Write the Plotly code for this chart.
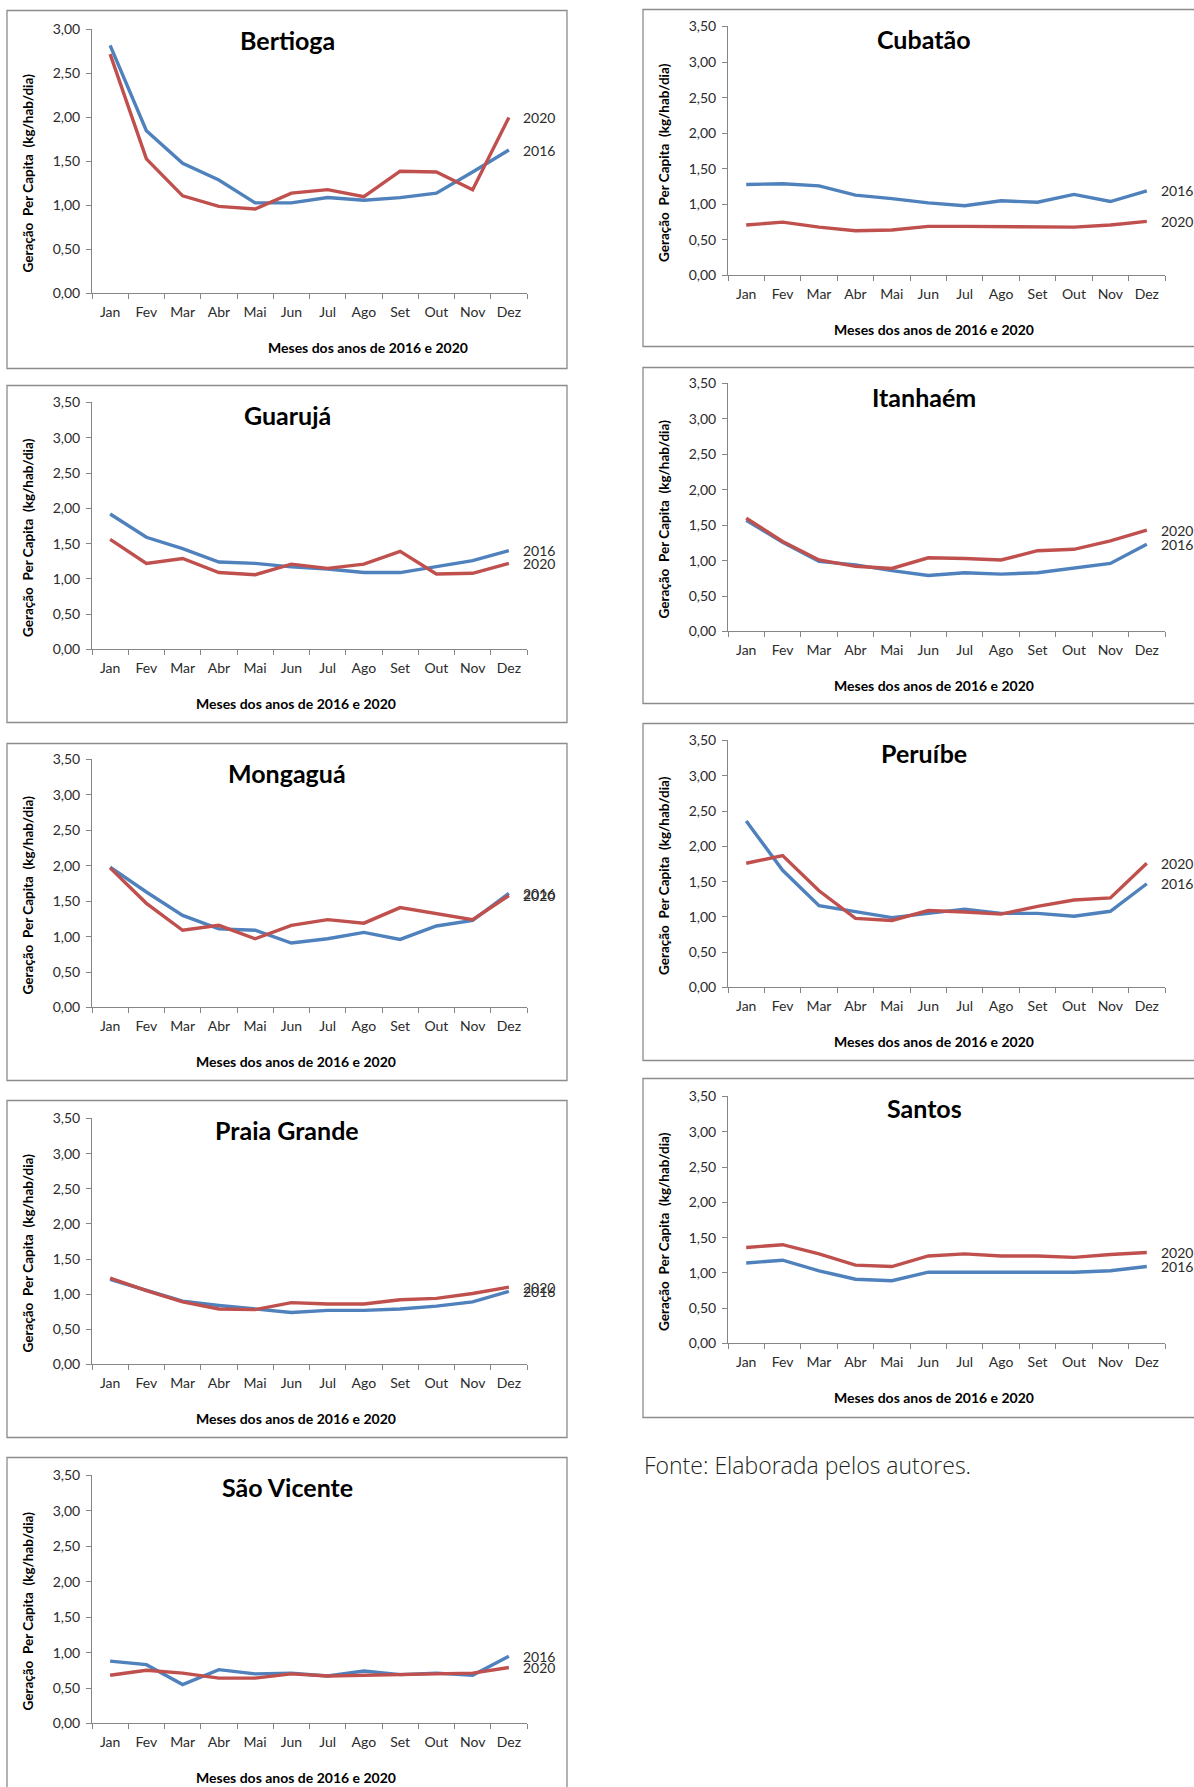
import plotly.graph_objects as go

W, H = 1194, 1787

months = ["Jan", "Fev", "Mar", "Abr", "Mai", "Jun", "Jul", "Ago", "Set", "Out", "Nov", "Dez"]
years = ["2016", "2020"]

cities = ["Bertioga", "Cubatão", "Guarujá", "Itanhaém", "Mongaguá",
          "Peruíbe", "Praia Grande", "Santos", "São Vicente"]

bertioga_2016 = [2.82, 1.85, 1.48, 1.29, 1.03, 1.03, 1.09, 1.06, 1.09, 1.14, 1.38, 1.63]
bertioga_2020 = [2.72, 1.53, 1.11, 0.99, 0.96, 1.14, 1.18, 1.10, 1.39, 1.38, 1.18, 2.00]

cubatao_2016 = [1.28, 1.29, 1.26, 1.13, 1.08, 1.02, 0.98, 1.05, 1.03, 1.14, 1.04, 1.19]
cubatao_2020 = [0.71, 0.75, 0.68, 0.63, 0.64, 0.69, 0.69, 0.69, 0.68, 0.68, 0.71, 0.76]

guaruja_2016 = [1.92, 1.59, 1.43, 1.24, 1.22, 1.17, 1.14, 1.09, 1.09, 1.17, 1.26, 1.40]
guaruja_2020 = [1.56, 1.22, 1.29, 1.09, 1.06, 1.21, 1.15, 1.21, 1.39, 1.07, 1.08, 1.22]

itanhaem_2016 = [1.57, 1.26, 0.99, 0.94, 0.86, 0.79, 0.83, 0.81, 0.83, 0.90, 0.96, 1.23]
itanhaem_2020 = [1.60, 1.27, 1.01, 0.92, 0.89, 1.04, 1.03, 1.01, 1.14, 1.16, 1.28, 1.43]

mongagua_2016 = [1.98, 1.63, 1.30, 1.11, 1.09, 0.91, 0.97, 1.06, 0.96, 1.15, 1.23, 1.61]
mongagua_2020 = [1.97, 1.47, 1.09, 1.16, 0.97, 1.16, 1.24, 1.19, 1.41, 1.33, 1.24, 1.58]

peruibe_2016 = [2.36, 1.66, 1.16, 1.07, 0.99, 1.05, 1.11, 1.05, 1.05, 1.01, 1.08, 1.47]
peruibe_2020 = [1.76, 1.87, 1.37, 0.98, 0.95, 1.09, 1.07, 1.04, 1.15, 1.24, 1.27, 1.76]

praia_grande_2016 = [1.21, 1.05, 0.90, 0.84, 0.79, 0.74, 0.77, 0.77, 0.79, 0.83, 0.89, 1.04]
praia_grande_2020 = [1.23, 1.05, 0.89, 0.79, 0.78, 0.88, 0.86, 0.86, 0.92, 0.94, 1.01, 1.10]

santos_2016 = [1.14, 1.18, 1.03, 0.91, 0.89, 1.01, 1.01, 1.01, 1.01, 1.01, 1.03, 1.09]
santos_2020 = [1.36, 1.40, 1.27, 1.11, 1.09, 1.24, 1.27, 1.24, 1.24, 1.22, 1.26, 1.29]

sao_vicente_2016 = [0.88, 0.83, 0.55, 0.76, 0.70, 0.71, 0.67, 0.74, 0.69, 0.71, 0.68, 0.95]
sao_vicente_2020 = [0.68, 0.75, 0.71, 0.64, 0.64, 0.70, 0.67, 0.68, 0.70, 0.71, 0.71, 0.79]

series = {
    "Bertioga": (bertioga_2016, bertioga_2020),
    "Cubatão": (cubatao_2016, cubatao_2020),
    "Guarujá": (guaruja_2016, guaruja_2020),
    "Itanhaém": (itanhaem_2016, itanhaem_2020),
    "Mongaguá": (mongagua_2016, mongagua_2020),
    "Peruíbe": (peruibe_2016, peruibe_2020),
    "Praia Grande": (praia_grande_2016, praia_grande_2020),
    "Santos": (santos_2016, santos_2020),
    "São Vicente": (sao_vicente_2016, sao_vicente_2020),
}

y_axis_title = "Geração  Per Capita  (kg/hab/dia)"
x_axis_title = "Meses dos anos de 2016 e 2020"
source_text = "Fonte: Elaborada pelos autores."

# ---- layout geometry (target pixels in the final picture) ----
COLS = {
    "L": dict(box=(7, 567), plot=(92, 527), title_x=287, xtitle_x=296, ytitle_x=28, label_shift=12),
    "R": dict(box=(643, 1210), plot=(728, 1165), title_x=924, xtitle_x=934, ytitle_x=664, label_shift=12),
}
PANELS = {
    # col, box_top, box_bottom, plot_top, plot_bottom, ymax
    "Bertioga": ("L", 10, 368, 29, 293, 3.0),
    "Cubatão": ("R", 9, 346, 26, 275, 3.5),
    "Guarujá": ("L", 385, 722, 402, 649, 3.5),
    "Itanhaém": ("R", 367, 703, 383, 631, 3.5),
    "Mongaguá": ("L", 743, 1080, 759, 1007, 3.5),
    "Peruíbe": ("R", 723, 1060, 740, 987, 3.5),
    "Praia Grande": ("L", 1100, 1437, 1118, 1364, 3.5),
    "Santos": ("R", 1078, 1417, 1096, 1343, 3.5),
    "São Vicente": ("L", 1457, 1810, 1475, 1723, 3.5),
}

# the page adds a small vertical offset/scale; compensate so targets land in place
PAGE_Y_OFFSET = 8.5
PAGE_Y_SCALE = 0.9905

BLUE = "#4F81BD"
RED = "#C0504D"
AXIS_COLOR = "#868686"
TEXT = "#2b2b2b"
FONT = "Lato, 'Open Sans', sans-serif"


def px_x(p):
    return p / W


def px_y(p):
    return 1 - ((p - PAGE_Y_OFFSET) / PAGE_Y_SCALE) / H


fig = go.Figure()
shapes = []
annotations = []
layout_axes = {}

for i, city in enumerate(cities, start=1):
    col, btop, bbot, ptop, pbot, ymax = PANELS[city]
    c = COLS[col]
    xa = "x" if i == 1 else f"x{i}"
    ya = "y" if i == 1 else f"y{i}"
    s2016, s2020 = series[city]
    colors = {"2016": BLUE, "2020": RED}
    for yr, vals in zip(years, (s2016, s2020)):
        fig.add_trace(go.Scatter(
            x=months, y=vals, xaxis=xa, yaxis=ya, mode="lines",
            line=dict(color=colors[yr], width=3.4), name=yr, showlegend=False,
        ))
        annotations.append(dict(
            x="Dez", y=vals[-1], xref=xa, yref=ya, text=yr, showarrow=False,
            xanchor="left", yanchor="middle", xshift=c["label_shift"],
            font=dict(family=FONT, size=14, color=TEXT),
        ))

    xkey = "xaxis" if i == 1 else f"xaxis{i}"
    ykey = "yaxis" if i == 1 else f"yaxis{i}"
    layout_axes[xkey] = dict(
        domain=[px_x(c["plot"][0]), px_x(c["plot"][1])], anchor=ya,
        type="category", categoryorder="array", categoryarray=months,
        range=[-0.5, 11.5], tickson="boundaries", ticks="outside", ticklen=5,
        tickcolor=AXIS_COLOR, showline=True, linecolor=AXIS_COLOR, linewidth=1,
        showgrid=False, zeroline=False, fixedrange=True,
        tickfont=dict(family=FONT, size=14, color=TEXT), ticklabelstandoff=6,
    )
    layout_axes[ykey] = dict(
        domain=[px_y(pbot), px_y(ptop)], anchor=xa,
        range=[0, ymax], dtick=0.5, tick0=0, tickformat=".2f",
        ticks="outside", ticklen=5, tickcolor=AXIS_COLOR,
        showline=True, linecolor=AXIS_COLOR, linewidth=1,
        showgrid=False, zeroline=False, fixedrange=True,
        tickfont=dict(family=FONT, size=14, color=TEXT), ticklabelstandoff=3,
    )

    shapes.append(dict(
        type="rect", xref="paper", yref="paper",
        x0=px_x(c["box"][0]), x1=px_x(c["box"][1]),
        y0=px_y(bbot), y1=px_y(btop),
        line=dict(color="#8c8c8c", width=1.3), fillcolor="rgba(0,0,0,0)", layer="below",
    ))
    annotations.append(dict(
        x=px_x(c["title_x"]), y=px_y(btop + 30), xref="paper", yref="paper",
        text=f"<b>{city}</b>", showarrow=False, xanchor="center", yanchor="middle",
        font=dict(family=FONT, size=25, color="#000000"),
    ))
    xt_x = 368 if city == "Bertioga" else c["xtitle_x"]
    annotations.append(dict(
        x=px_x(xt_x), y=px_y(pbot + 54), xref="paper", yref="paper",
        text=f"<b>{x_axis_title}</b>", showarrow=False, xanchor="center", yanchor="middle",
        font=dict(family=FONT, size=14, color="#000000"),
    ))
    annotations.append(dict(
        x=px_x(c["ytitle_x"]), y=px_y((ptop + pbot) / 2 + 12), xref="paper", yref="paper",
        text=f"<b>{y_axis_title}</b>", showarrow=False, textangle=-90,
        xanchor="center", yanchor="middle",
        font=dict(family=FONT, size=13.5, color="#000000"),
    ))

annotations.append(dict(
    x=px_x(642), y=px_y(1465), xref="paper", yref="paper", text=source_text,
    showarrow=False, xanchor="left", yanchor="middle",
    font=dict(family="'Open Sans', Lato, sans-serif", size=23, color="#231f20", weight=300),
))

fig.update_layout(
    width=W, height=H, margin=dict(l=0, r=0, t=0, b=0),
    paper_bgcolor="white", plot_bgcolor="white",
    separators=",.", showlegend=False,
    shapes=shapes, annotations=annotations,
    **layout_axes,
)

fig.write_html(
    "out.html",
    config={"displayModeBar": False},
    post_script="var s=document.createElement('style');"
                "s.textContent='html,body{margin:0!important;padding:0!important;overflow:hidden!important;}';"
                "document.head.appendChild(s);",
)
